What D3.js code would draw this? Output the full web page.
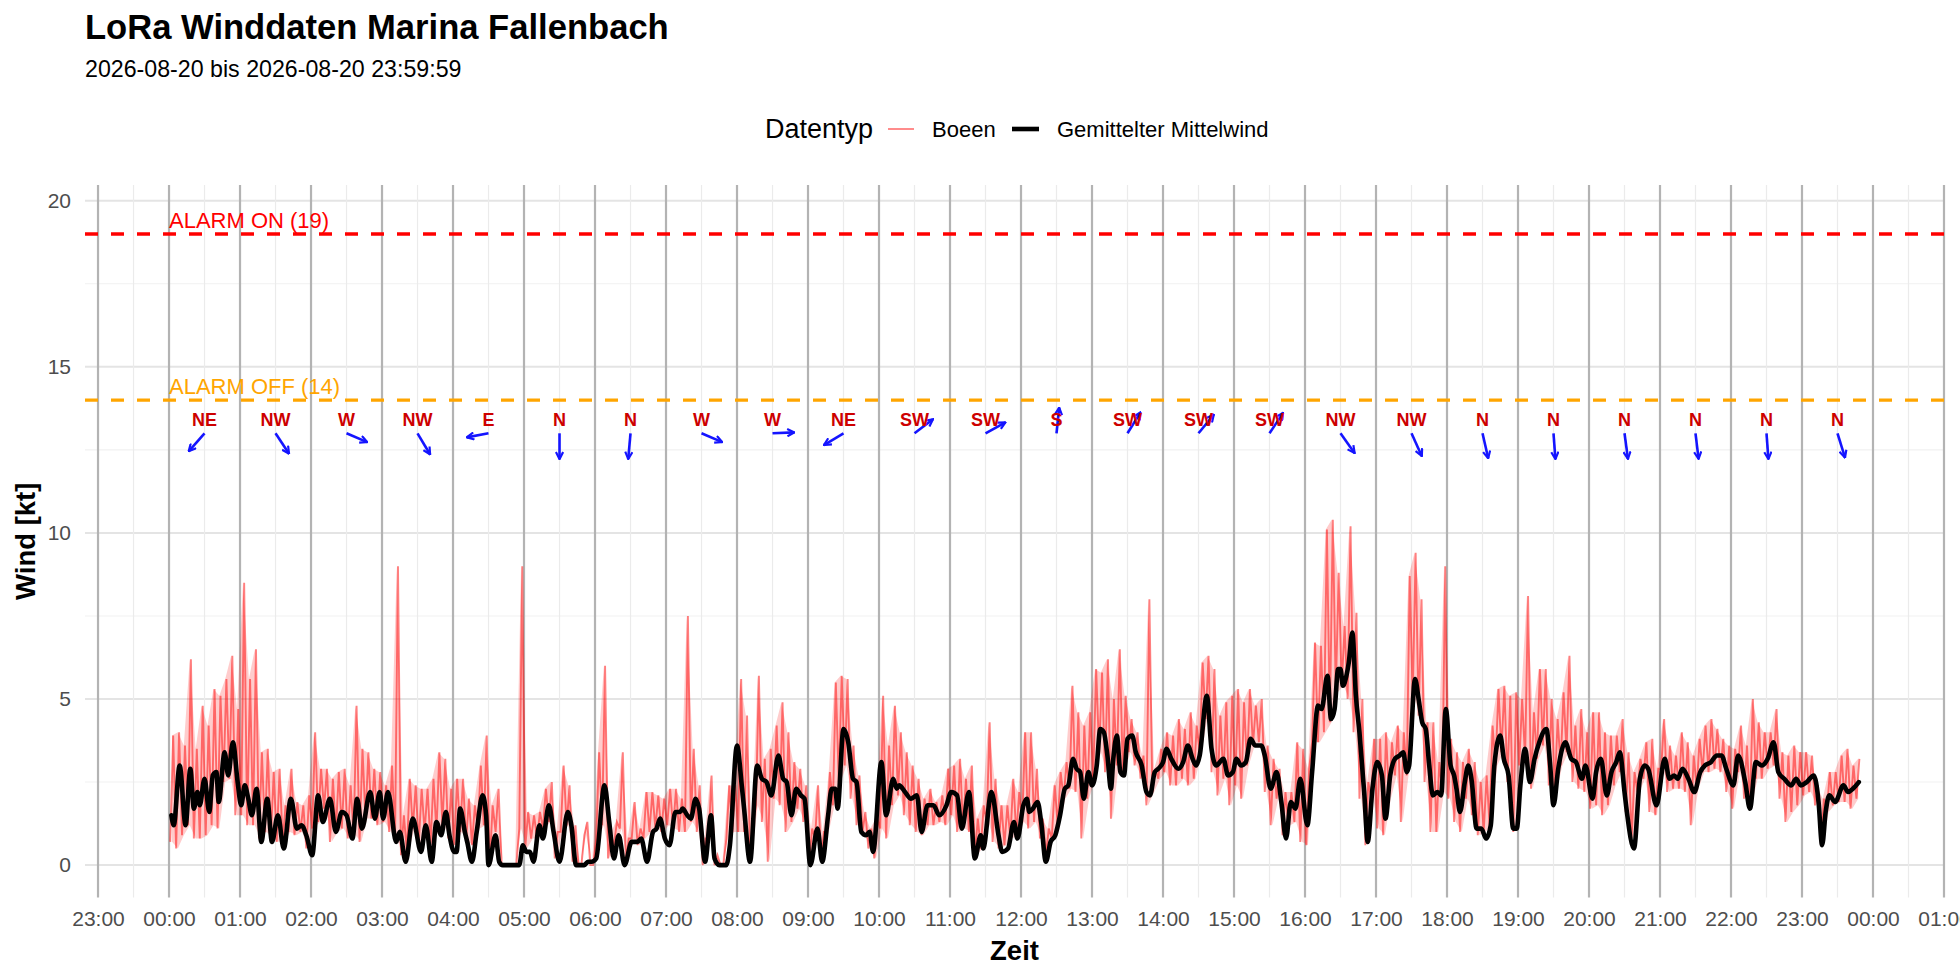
<!DOCTYPE html>
<html>
<head>
<meta charset="utf-8">
<script src="https://cdn.jsdelivr.net/npm/d3@7"></script>
<style>
    body { margin: 0; background: #fff; }
    svg text { font-family: "Liberation Sans", Arial, Helvetica, sans-serif; }
</style>
</head>
<body>
<svg id="chart" width="1960" height="980"></svg>
<script>
/* ==========================================================
   DATA (times in minutes after 00:00)
========================================================== */

// Gemittelter Mittelwind: sample time (min) and value (kt)
const meanMin = [
    2,4,9,14,18,21,24,26,30,34,37,40,42,47,50,54,58,61,64,67,70,74,78,83,87,92,97,103,108,112,116,121,126,130,136,141,146,150,155,159,163,170,174,178,181,185,192,195,200,206,213,217,222,226,230,234,237,241,
    243,246,250,252,256,260,265,268,270,276,279,282,296,299,302,305,308,313,316,321,325,330,337,340,344,351,354,357,361,368,372,376,380,385,391,396,399,404,409,412,415,419,423,428,432,434,438,441,445,448,453,458,461,465,471,474,480,
    484,486,491,497,501,505,509,515,519,522,526,530,534,537,542,548,552,557,560,563,565,570,574,578,581,585,589,592,595,602,606,612,615,617,622,627,632,636,641,646,651,657,661,666,670,676,681,686,688,695,701,704,709,714,717,
    722,725,727,730,734,737,741,745,749,753,757,760,764,767,770,773,777,780,784,787,790,793,796,798,801,804,807,810,814,817,822,826,829,833,836,840,843,847,853,857,861,865,868,871,877,881,885,891,895,899,902,906,910,914,918,923,926,931,936,940,944,948,952,956,962,
    966,971,974,979,982,985,988,990,992,995,997,1000,1003,1006,1010,1013,1017,1021,1025,1028,1032,1036,1040,1043,1046,1048,1053,1056,1059,1062,1065,1068,1072,1075,1079,1083,1086,1088,1091,1095,1098,1101,1105,1109,1113,1117,1120,1125,1128,1132,1136,1139,1142,1146,1150,1154,1158,1164,1167,1170,1174,1180,1185,1189,1194,1197,1203,
    1206,1210,1215,1219,1223,1226,1230,1232,1238,1243,1247,1250,1257,1264,1268,1272,1275,1279,1284,1289,1294,1298,1303,1308,1312,1316,1322,1326,1332,1336,1341,1346,1351,1356,1360,1365,1371,1375,1379,1384,1390,1394,1397,1400,1403,1408,1415,1419,1423,1428
];
const meanKt = [
    1.5,1.2,3.0,1.2,2.9,1.7,2.2,1.8,2.6,1.6,2.7,2.8,1.9,3.4,2.7,3.7,2.5,1.8,2.4,2.0,1.5,2.3,0.7,2.0,0.7,1.5,0.5,2.0,1.1,1.2,0.9,0.3,2.1,1.3,2.0,1.0,1.6,1.5,0.8,2.0,1.1,2.2,1.4,2.2,1.4,2.2,0.7,1.0,0.1,1.4,0.4,1.2,0.1,1.3,0.9,1.6,0.9,0.4,
    0.4,1.7,1.0,0.7,0.1,1.0,2.1,1.5,0.0,0.9,0.1,0.0,0.0,0.6,0.4,0.4,0.1,1.2,0.8,1.8,1.0,0.1,1.6,1.2,0.0,0.0,0.1,0.1,0.2,2.4,1.3,0.2,0.9,0.0,0.7,0.7,0.8,0.1,1.0,1.1,1.4,0.8,0.6,1.6,1.6,1.7,1.5,1.4,2.0,1.7,0.1,1.5,0.2,0.0,0.0,0.6,3.6,
    2.4,1.7,0.1,3.0,2.6,2.5,2.1,3.3,2.6,2.5,1.5,2.3,2.1,2.0,0.0,1.1,0.1,1.5,2.3,2.3,1.7,4.1,3.7,2.6,2.5,1.0,0.9,1.0,0.4,3.1,1.5,2.6,2.3,2.4,2.2,2.0,2.1,1.0,1.8,1.8,1.5,1.8,2.2,2.1,1.1,2.2,0.2,0.9,0.5,2.2,0.9,0.4,0.5,1.3,0.8,
    1.8,2.0,1.6,1.7,1.9,1.3,0.1,0.7,0.9,1.5,2.3,2.4,3.2,2.9,2.8,2.0,2.8,2.4,3.0,4.1,4.0,3.3,2.3,3.2,3.9,2.8,2.7,3.8,3.9,3.4,3.0,2.2,2.1,2.8,2.9,3.1,3.5,3.2,2.9,3.1,3.6,3.2,3.0,3.3,5.1,3.5,3.0,3.2,2.7,2.8,3.2,3.0,3.1,3.8,3.6,3.6,3.3,2.3,2.8,1.9,0.8,1.9,1.7,2.6,1.2,
    2.8,4.8,4.7,5.7,4.4,4.7,5.9,5.9,5.4,5.7,6.1,7.0,5.1,4.0,2.2,0.7,2.3,3.1,2.7,1.4,2.7,3.2,3.3,3.4,2.8,3.0,5.6,5.0,4.3,4.1,3.0,2.1,2.2,2.1,4.7,3.0,2.7,2.3,1.6,2.5,3.0,2.5,1.1,1.1,0.8,1.2,3.0,3.9,3.2,2.7,1.1,1.1,2.4,3.5,2.5,3.2,3.7,4.1,3.1,1.8,2.9,3.7,3.2,3.1,2.6,3.0,2.0,
    2.8,3.2,2.1,2.8,3.1,3.4,2.2,1.6,0.5,2.6,3.0,2.9,1.8,3.2,2.6,2.7,2.6,2.9,2.6,2.2,2.8,3.0,3.1,3.3,3.3,2.9,2.4,3.3,2.5,1.7,3.1,3.0,3.2,3.7,2.8,2.6,2.4,2.6,2.4,2.5,2.7,1.9,0.6,1.6,2.1,1.9,2.4,2.2,2.3,2.5
];

// Boeen: highest and lowest gust in each 5-minute block, from 00:00
const gustHi = [
    3.9,4.0,3.6,6.2,3.5,4.8,4.2,5.3,5.1,5.6,6.3,4.7,
    8.5,5.6,6.5,3.4,3.5,2.8,2.9,1.8,2.9,1.9,1.8,2.1,
    4.0,2.9,2.9,2.6,2.8,2.9,2.4,4.8,3.5,3.4,2.9,2.8,
    2.4,3.0,9.0,1.5,2.6,2.4,2.3,2.3,2.6,3.4,3.2,2.3,
    2.6,2.6,2.0,1.8,3.0,3.9,1.8,2.3,0.0,0.0,0.0,9.0,
    1.6,1.5,1.6,2.3,2.5,1.0,3.0,2.4,1.2,0.0,1.3,0.0,
    3.4,6.0,0.9,1.3,3.4,0.8,1.9,1.1,2.2,2.2,2.1,2.0,
    2.3,2.3,2.0,7.5,3.5,2.4,0.8,2.7,0.3,0.0,2.4,2.4,
    5.6,4.5,1.2,5.7,3.2,3.5,4.2,4.9,4.0,3.1,2.9,2.4,
    1.1,2.4,1.0,2.8,5.5,5.7,5.6,3.6,2.7,1.6,1.1,1.4,
    5.1,3.6,4.8,4.0,3.4,3.0,2.6,2.0,2.3,1.9,2.1,2.9,
    3.0,3.2,2.6,3.0,1.4,1.8,4.3,2.6,1.8,1.8,2.6,2.2,
    4.0,4.0,2.9,1.4,1.1,2.4,2.8,3.1,5.4,4.6,4.2,4.6,
    5.9,5.8,6.2,5.0,6.5,5.1,4.4,4.0,3.3,8.0,2.9,3.5,
    4.0,3.9,4.4,4.1,4.6,4.2,6.1,6.3,5.9,4.5,4.9,5.1,
    5.3,4.9,5.3,4.8,5.0,3.6,3.2,2.9,2.2,2.2,3.7,3.5,
    2.9,6.7,6.6,10.1,10.4,8.8,7.2,10.2,7.6,5.0,2.5,3.8,
    3.8,4.0,3.7,4.2,4.0,8.7,9.4,8.0,4.3,4.3,3.1,9.0,
    3.8,3.4,3.1,3.5,3.1,2.5,2.7,4.2,5.3,5.4,5.1,5.2,
    5.0,8.1,4.6,5.9,5.9,5.0,4.4,5.2,6.3,4.2,4.7,4.0,
    4.6,4.6,4.0,3.9,3.9,4.4,3.4,2.8,3.2,3.7,3.8,2.9,
    4.4,3.6,3.3,4.0,3.7,3.3,3.8,4.2,4.4,4.1,3.8,3.6,
    3.5,4.2,3.6,5.0,4.3,4.0,4.0,4.7,3.4,3.3,3.6,3.4,
    3.4,3.3,2.4,2.0,2.8,2.8,3.3,3.5,3.0,3.2
];
const gustLo = [
    0.7,0.5,0.9,1.2,0.8,0.8,0.9,1.2,1.1,2.5,2.6,1.5,
    1.5,1.2,1.2,0.8,1.0,0.8,0.7,0.7,1.0,0.9,1.0,0.5,
    1.1,1.3,1.7,0.7,1.0,1.1,0.8,0.9,0.7,1.4,1.4,1.2,
    1.3,1.0,0.8,0.3,0.4,1.1,0.6,1.0,0.6,1.0,1.2,0.8,
    0.6,1.0,0.7,0.6,1.1,1.2,0.0,1.0,0.0,0.0,0.0,1.1,
    0.5,0.8,0.8,1.1,1.3,0.2,1.0,1.2,0.1,0.0,0.9,0.0,
    0.8,1.2,0.2,0.6,1.1,0.1,0.8,0.6,0.8,1.0,1.1,1.0,
    1.2,1.1,1.0,1.0,1.3,1.0,0.0,0.8,0.0,0.0,0.8,1.0,
    1.0,1.0,0.3,1.8,1.3,0.1,2.0,1.8,1.0,1.3,1.7,1.3,
    0.1,0.8,0.2,1.0,1.8,2.5,3.0,2.0,1.2,1.0,0.5,0.2,
    1.1,0.8,1.8,2.1,1.5,1.2,1.0,0.9,1.2,1.2,1.3,1.2,
    1.5,1.0,1.1,1.0,0.3,0.5,1.3,0.7,0.5,0.6,0.8,0.9,
    1.3,1.1,1.3,0.8,0.3,0.8,1.2,2.0,2.3,2.2,0.8,2.0,
    2.6,3.4,2.8,1.4,3.0,2.8,3.4,3.0,2.6,1.8,2.2,2.6,
    2.8,2.4,2.4,2.6,2.4,2.6,3.4,4.4,2.8,2.1,2.6,1.8,
    2.4,2.0,3.0,3.6,3.7,2.2,1.2,2.0,0.9,1.2,1.3,0.7,
    0.6,3.7,3.7,4.0,4.3,5.2,5.4,5.0,4.0,2.0,0.6,2.0,
    1.1,0.9,2.0,2.7,1.3,2.7,5.0,4.5,2.5,1.0,1.0,2.2,
    2.0,1.3,1.0,2.0,1.5,0.9,1.0,1.2,3.0,3.4,2.5,1.0,
    3.0,3.2,2.3,3.2,3.6,2.4,2.2,3.0,3.4,2.5,2.3,2.2,
    1.7,1.8,1.5,1.8,2.4,2.8,1.6,0.8,2.2,2.6,1.6,1.5,
    2.9,2.2,2.3,2.3,2.2,1.2,2.3,2.8,2.8,2.9,2.8,2.2,
    1.7,2.8,2.0,1.8,2.6,2.6,2.9,3.0,2.0,1.3,1.6,1.8,
    2.1,2.2,1.8,0.6,1.6,1.8,1.9,1.9,1.7,2.0
];

// hourly wind direction (placed at hh:30)
const dirHour  = [0,1,2,3,4,5,6,7,8,9,10,11,12,13,14,15,16,17,18,19,20,21,22,23];
const dirLabel = ["NE","NW","W","NW","E","N","N","W","W","NE","SW","SW","S","SW","SW","SW","NW","NW","N","N","N","N","N","N"];
const dirDeg   = [46,322,290,325,81,0,6,290,268,63,237,245,187,216,224,218,320,332,345,355,351,352,355,340];

// alarm thresholds
const alarmLevel = [19, 14];
const alarmText  = ["ALARM ON (19)", "ALARM OFF (14)"];
const alarmColor = ["#ff0000", "#ffa500"];

const yTicks = [0, 5, 10, 15, 20];
const yMinor = [2.5, 7.5, 12.5, 17.5];

/* ==========================================================
   SETUP
========================================================== */
const day = new Date(2026, 7, 20, 0, 0, 0);
const atMin = m => new Date(day.getTime() + m * 60000);

const panel = { left: 85, right: 1944, top: 185, bottom: 897.5 };
const FONT = '"Liberation Sans", Arial, Helvetica, sans-serif';

const svg = d3.select("#chart");

const x = d3.scaleTime()
    .domain([atMin(-71), atMin(24 * 60 + 60)])
    .range([panel.left, panel.right]);

const y = d3.scaleLinear()
    .domain([-0.975, 20.475])
    .range([panel.bottom, panel.top]);

const hours = d3.timeHour.range(atMin(-60), atMin(24 * 60 + 61));
const halfHours = d3.timeMinute.every(30).range(atMin(-30), atMin(24 * 60 + 31))
    .filter(d => d.getMinutes() === 30);

/* ==========================================================
   GRID
========================================================== */
const grid = svg.append("g");

grid.selectAll(".yminor").data(yMinor).enter().append("line")
    .attr("x1", panel.left).attr("x2", panel.right)
    .attr("y1", d => y(d)).attr("y2", d => y(d))
    .attr("stroke", "#f1f1f1").attr("stroke-width", 1.1);

grid.selectAll(".ymajor").data(yTicks).enter().append("line")
    .attr("x1", panel.left).attr("x2", panel.right)
    .attr("y1", d => y(d)).attr("y2", d => y(d))
    .attr("stroke", "#e4e4e4").attr("stroke-width", 2);

grid.selectAll(".xminor").data(halfHours).enter().append("line")
    .attr("x1", d => x(d)).attr("x2", d => x(d))
    .attr("y1", panel.top).attr("y2", panel.bottom)
    .attr("stroke", "#ebebeb").attr("stroke-width", 1.2);

// hour markers
grid.selectAll(".vhour").data(hours).enter().append("line")
    .attr("x1", d => x(d)).attr("x2", d => x(d))
    .attr("y1", panel.top).attr("y2", panel.bottom)
    .attr("stroke", "#b3b3b3").attr("stroke-width", 2.2);

/* ==========================================================
   ALARM LINES
========================================================== */
svg.selectAll(".alarm").data(alarmLevel).enter().append("line")
    .attr("x1", panel.left).attr("x2", panel.right)
    .attr("y1", d => y(d)).attr("y2", d => y(d))
    .attr("stroke", (d, i) => alarmColor[i])
    .attr("stroke-width", 3.3)
    .attr("stroke-dasharray", "13 13");

svg.selectAll(".alarmText").data(alarmLevel).enter().append("text")
    .attr("x", x(atMin(0)))
    .attr("y", d => y(d + 0.4))
    .attr("dominant-baseline", "central")
    .attr("font-size", 22)
    .attr("fill", (d, i) => alarmColor[i])
    .text((d, i) => alarmText[i]);

/* ==========================================================
   WIND LINES
========================================================== */
const gustPts = [];
gustHi.forEach((hi, i) => {
    gustPts.push([5 * i + 1, gustLo[i]]);
    gustPts.push([5 * i + 3.5, hi]);
});

// soft band between block minimum and maximum
svg.append("path")
    .datum(gustHi.map((hi, i) => [5 * i + 2.5, gustLo[i], hi]))
    .attr("fill", "#ff0000")
    .attr("fill-opacity", 0.2)
    .attr("d", d3.area()
        .x(d => x(atMin(d[0])))
        .y0(d => y(d[1]))
        .y1(d => y(d[2])));

svg.append("path")
    .datum(gustPts)
    .attr("fill", "none")
    .attr("stroke", "#ff0000")
    .attr("stroke-opacity", 0.5)
    .attr("stroke-width", 1.9)
    .attr("d", d3.line().x(d => x(atMin(d[0]))).y(d => y(d[1])));

svg.append("path")
    .datum(meanMin.map((m, i) => [m, meanKt[i]]))
    .attr("fill", "none")
    .attr("stroke", "#000")
    .attr("stroke-width", 4.6)
    .attr("stroke-linejoin", "round")
    .attr("stroke-linecap", "round")
    .attr("d", d3.line().curve(d3.curveMonotoneX)
        .x(d => x(atMin(d[0]))).y(d => y(d[1])));

/* ==========================================================
   DIRECTION ARROWS
========================================================== */
svg.append("defs").append("marker")
    .attr("id", "head")
    .attr("viewBox", "0 0 10 10")
    .attr("refX", 9).attr("refY", 5)
    .attr("markerWidth", 9).attr("markerHeight", 9)
    .attr("markerUnits", "userSpaceOnUse")
    .attr("orient", "auto")
    .append("path")
    .attr("d", "M1,1 L9,5 L1,9")
    .attr("fill", "none")
    .attr("stroke", "#1414ff")
    .attr("stroke-width", 2.4);

const arrowY = 13.0, arrowLenMin = 18.6, arrowLenKt = 0.78;

svg.selectAll(".arrow").data(dirHour).enter().append("line")
    .attr("x1", d => x(atMin(d * 60 + 30)))
    .attr("y1", y(arrowY))
    .attr("x2", (d, i) => x(atMin(d * 60 + 30 - Math.sin(dirDeg[i] * Math.PI / 180) * arrowLenMin)))
    .attr("y2", (d, i) => y(arrowY - Math.cos(dirDeg[i] * Math.PI / 180) * arrowLenKt))
    .attr("stroke", "#1414ff")
    .attr("stroke-width", 2.6)
    .attr("marker-end", "url(#head)");

svg.selectAll(".dirLabel").data(dirHour).enter().append("text")
    .attr("x", d => x(atMin(d * 60 + 30)))
    .attr("y", y(13.4))
    .attr("text-anchor", "middle")
    .attr("dominant-baseline", "central")
    .attr("font-size", 18)
    .attr("font-weight", "bold")
    .attr("fill", "#cd0000")
    .text((d, i) => dirLabel[i]);

/* ==========================================================
   AXES
========================================================== */
svg.append("g")
    .attr("transform", `translate(0,${panel.bottom})`)
    .call(d3.axisBottom(x).tickValues(hours).tickFormat(d3.timeFormat("%H:%M"))
        .tickSize(0).tickPadding(14))
    .attr("font-size", 21)
    .attr("font-family", FONT)
    .call(g => g.select(".domain").remove())
    .call(g => g.selectAll("text").attr("fill", "#4d4d4d"));

svg.append("g")
    .attr("transform", `translate(${panel.left},0)`)
    .call(d3.axisLeft(y).tickValues(yTicks).tickSize(0).tickPadding(14))
    .attr("font-size", 21)
    .attr("font-family", FONT)
    .call(g => g.select(".domain").remove())
    .call(g => g.selectAll("text").attr("fill", "#4d4d4d"));

svg.append("text")
    .attr("x", (panel.left + panel.right) / 2).attr("y", 950)
    .attr("text-anchor", "middle").attr("dominant-baseline", "central")
    .attr("font-size", 27.5).attr("font-weight", "bold")
    .text("Zeit");

svg.append("text")
    .attr("transform", `translate(25,${(panel.top + panel.bottom) / 2}) rotate(-90)`)
    .attr("text-anchor", "middle").attr("dominant-baseline", "central")
    .attr("font-size", 27.5).attr("font-weight", "bold")
    .text("Wind [kt]");

/* ==========================================================
   TITLE + LEGEND
========================================================== */
svg.append("text")
    .attr("x", 85).attr("y", 39)
    .attr("font-size", 34.6).attr("font-weight", "bold")
    .text("LoRa Winddaten Marina Fallenbach");

svg.append("text")
    .attr("x", 85).attr("y", 77)
    .attr("font-size", 23.2)
    .text("2026-08-20 bis 2026-08-20 23:59:59");

const legend = svg.append("g").attr("transform", "translate(0,129)");
legend.append("text").attr("x", 765).attr("dominant-baseline", "central")
    .attr("font-size", 27).text("Datentyp");
legend.append("line").attr("x1", 888).attr("x2", 914)
    .attr("stroke", "#ff0000").attr("stroke-opacity", 0.5).attr("stroke-width", 1.8);
legend.append("text").attr("x", 932).attr("dominant-baseline", "central")
    .attr("font-size", 22).text("Boeen");
legend.append("line").attr("x1", 1012).attr("x2", 1039)
    .attr("stroke", "#000").attr("stroke-width", 4.6);
legend.append("text").attr("x", 1057).attr("dominant-baseline", "central")
    .attr("font-size", 22).text("Gemittelter Mittelwind");
</script>
</body>
</html>
